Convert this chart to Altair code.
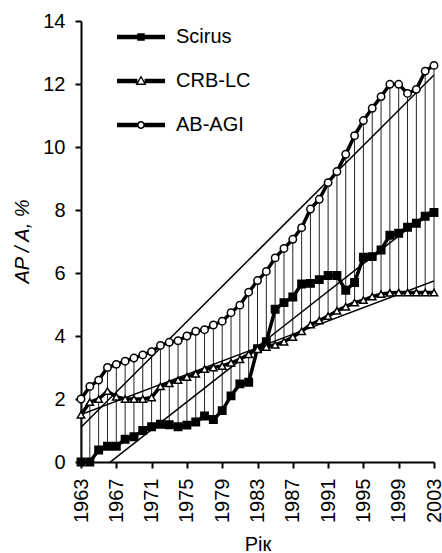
import altair as alt
import pandas as pd

years = list(range(1963, 2004))
scirus = [0.0, 0.0, 0.38, 0.5, 0.5, 0.72, 0.8, 1.0, 1.12, 1.2, 1.18, 1.12, 1.17, 1.27,
          1.46, 1.35, 1.63, 2.1, 2.48, 2.53, 3.6, 3.82, 4.85, 5.06, 5.24, 5.65, 5.67,
          5.79, 5.92, 5.92, 5.45, 5.7, 6.5, 6.52, 6.73, 7.2, 7.26, 7.45, 7.58, 7.8, 7.92]
crb_lc = [1.5, 1.9, 2.0, 2.25, 2.07, 2.0, 2.0, 2.0, 2.05, 2.4, 2.5, 2.6, 2.7, 2.8,
          2.95, 3.0, 3.05, 3.15, 3.26, 3.42, 3.58, 3.65, 3.72, 3.82, 3.97, 4.15, 4.36,
          4.49, 4.63, 4.8, 4.93, 5.06, 5.14, 5.25, 5.33, 5.37, 5.38, 5.38, 5.38, 5.38, 5.38]
ab_agi = [2.0, 2.4, 2.6, 3.0, 3.1, 3.2, 3.3, 3.4, 3.5, 3.7, 3.8, 3.85, 4.0, 4.15,
          4.2, 4.35, 4.47, 4.74, 4.98, 5.39, 5.76, 6.05, 6.48, 6.78, 7.07, 7.44, 8.03,
          8.34, 8.87, 9.22, 9.77, 10.36, 10.84, 11.23, 11.6, 11.99, 11.99, 11.7, 11.83, 12.41, 12.59]
series_names = ["Scirus", "CRB-LC", "AB-AGI"]
x_tick_years = [1963, 1967, 1971, 1975, 1979, 1983, 1987, 1991, 1995, 1999, 2003]
y_ticks = [0, 2, 4, 6, 8, 10, 12, 14]

n = len(years)
wide = pd.DataFrame({"year": years, "scirus": scirus, "crb": crb_lc, "abagi": ab_agi})
long = pd.DataFrame({
    "year": years * 3,
    "series": [s for s in series_names for _ in range(n)],
    "value": scirus + crb_lc + ab_agi,
})

FONT = "Liberation Sans"

# legend symbols: thick line segment with its marker (filled SVG paths, holes by reverse winding;
# drawn at size 4 so that 1 path unit = 1 px)
LEG_SCIRUS = "M-24,-2.25H24V2.25H-24Z M-3.75,-3.75H3.75V3.75H-3.75Z"
LEG_CRB = ("M-24,-2.25H-3.6V2.25H-24Z M3.6,-2.25H24V2.25H3.6Z "
           "M0,-5.5L5.5,4H-5.5Z M0,-3L-3.1,2.4H3.1Z")
LEG_AB = ("M-24,-2.25H-3.6V2.25H-24Z M3.6,-2.25H24V2.25H3.6Z "
          "M-4,0A4,4 0 1,1 4,0A4,4 0 1,1 -4,0Z M-2.4,0A2.4,2.4 0 1,0 2.4,0A2.4,2.4 0 1,0 -2.4,0Z")

x_scale = alt.Scale(domain=[1963, 2003], nice=False, zero=False)
y_scale = alt.Scale(domain=[0, 14], nice=False)
x_axis = alt.Axis(values=x_tick_years, format="d", labelAngle=-90, title="Рік",
                  titleY=82, titleBaseline="middle", labelPadding=10)
y_axis = alt.Axis(values=y_ticks, title="AP / A, %", titleFontStyle="italic",
                  titleX=-59, titleY=220, titleBaseline="middle", titleAlign="center",
                  titleAngle=-90, labelPadding=10)

X = alt.X("year:Q", scale=x_scale, axis=x_axis)
Y = alt.Y("value:Q", scale=y_scale, axis=y_axis)

hilo = alt.Chart(wide).transform_calculate(
    lo="min(datum.scirus, datum.crb)"
).mark_rule(color="#222222", strokeWidth=1).encode(
    x=X,
    y=alt.Y("lo:Q", scale=y_scale, axis=y_axis),
    y2="abagi:Q",
)

lines = alt.Chart(long).mark_line(strokeWidth=3.5, color="black").encode(
    x=X, y=Y, detail="series:N",
)

trend = alt.Chart(long).transform_regression(
    "year", "value", groupby=["series"], extent=[1963, 2003]
).mark_line(color="black", strokeWidth=1.5, clip=True).encode(
    x=X, y=Y, detail="series:N",
)

points = alt.Chart(long).mark_point(opacity=1, stroke="black", strokeWidth=1.5, size=55, filled=True).encode(
    x=X, y=Y,
    shape=alt.Shape("series:N", scale=alt.Scale(domain=series_names, range=["square", "triangle-up", "circle"]),
                    legend=None),
    fill=alt.Fill("series:N", scale=alt.Scale(domain=series_names, range=["black", "white", "white"]),
                  legend=None),
)

leg = alt.Legend(title=None, orient="none", legendX=50, legendY=6,
                 symbolSize=4, labelFontSize=20, labelFont=FONT, labelColor="black",
                 padding=0, rowPadding=24, labelOffset=25,
                 symbolFillColor="black", symbolStrokeWidth=0, symbolOpacity=1)
legend_layer = alt.Chart(long).transform_filter("false").mark_point(
    filled=True, color="black", size=4, opacity=1, strokeWidth=0
).encode(
    x=X, y=Y,
    shape=alt.Shape("series:N", scale=alt.Scale(domain=series_names, range=[LEG_SCIRUS, LEG_CRB, LEG_AB]),
                    legend=leg),
)

chart = alt.layer(hilo, lines, trend, points, legend_layer).resolve_scale(
    shape="independent", fill="independent"
).properties(
    width=353, height=441,
    background="white",
    autosize=alt.AutoSizeParams(type="none"),
    padding={"left": 81, "top": 21, "right": 8, "bottom": 91},
).configure_view(stroke=None).configure_axis(
    domainColor="black", domainWidth=2, tickColor="black", tickWidth=2, tickSize=6,
    labelFont=FONT, labelFontSize=20, labelColor="black", titleFont=FONT,
    titleFontSize=20, titleFontWeight="normal", titleColor="black", grid=False,
)

chart.save("out.html", embed_options={"renderer": "svg", "actions": False})
